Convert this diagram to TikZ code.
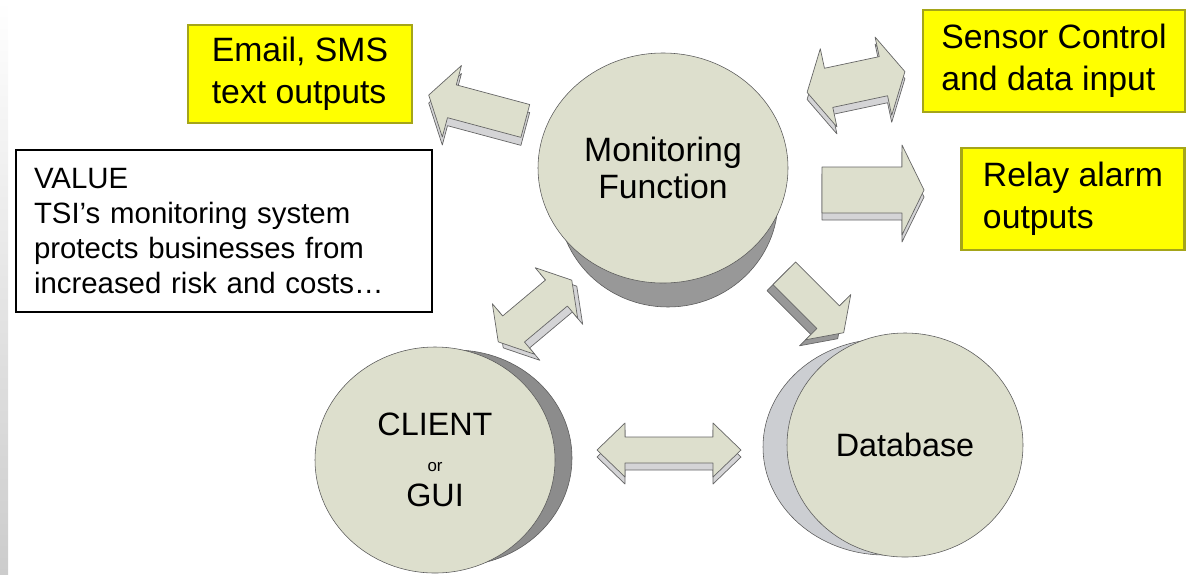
\documentclass[tikz,border=0pt]{standalone}
\usepackage{fontspec}
\setmainfont{Liberation Sans}
\usetikzlibrary{shapes.geometric}

\definecolor{facegreen}{RGB}{221,223,205}
\definecolor{boxyellow}{RGB}{255,255,0}
\definecolor{boxedge}{RGB}{165,165,25}
\definecolor{sidedark}{RGB}{152,152,152}
\definecolor{sidelight}{RGB}{204,206,210}
\definecolor{arrowunder}{RGB}{212,212,214}

% one pixel of the layout
\def\pix{0.025cm}

% block arrow outlines: half length, half shaft, half head, head length
\newcommand{\singlearrow}[4]{(-#1,-#2) -- (#1-#4,-#2) -- (#1-#4,-#3) -- (#1,0) -- (#1-#4,#3) -- (#1-#4,#2) -- (-#1,#2) -- cycle}
\newcommand{\doublearrow}[4]{(-#1,0) -- (-#1+#4,-#3) -- (-#1+#4,-#2) -- (#1-#4,-#2) -- (#1-#4,-#3) -- (#1,0) -- (#1-#4,#3) -- (#1-#4,#2) -- (-#1+#4,#2) -- (-#1+#4,#3) -- cycle}

\begin{document}
\begin{tikzpicture}[x=\pix, y=-\pix,
  face/.style={ellipse, draw=black!65, fill=facegreen, inner sep=0pt, align=center,
    font=\fontsize{24}{26}\selectfont},
  yellowbox/.style={rectangle, draw=boxedge, line width=1.5pt, fill=boxyellow,
    align=left, inner sep=0pt, font=\fontsize{24}{29.8}\selectfont},
  valuebox/.style={rectangle, draw=black, line width=0.9pt, fill=white, align=left,
    text width=380*\pix, inner xsep=18*\pix, minimum height=162*\pix,
    font=\fontsize{20.9}{24.8}\selectfont},
  arrowface/.style={draw=black!60, fill=facegreen, line width=0.5pt, line join=round},
  arrowside/.style={draw=black!60, fill=arrowunder, line width=0.5pt, line join=round}]
\useasboundingbox (0,0) rectangle (1187,574);

% Rand links
\shade[top color=white, bottom color=black!20] (0,0) rectangle (8,574);

% Zylinder: Seiten zuerst
\filldraw[fill=sidedark, draw=black!65] (668,200) ellipse [x radius=110, y radius=107];
\filldraw[fill=black!45, draw=black!65] (455,458) ellipse [x radius=117, y radius=108];
\filldraw[fill=sidelight, draw=black!65] (885,447) ellipse [x radius=122, y radius=108];

% Zylinder: Deckflaechen
\node[face, minimum width=250*\pix, minimum height=230*\pix] (mon) at (663,168)
  {Monitoring\\Function};
\node[face, minimum width=240*\pix, minimum height=226*\pix,
  font=\fontsize{23}{25}\selectfont] (client) at (435,460)
  {CLIENT\\{\fontsize{12}{12}\selectfont or}\\GUI};
\node[face, minimum width=236*\pix, minimum height=224*\pix,
  font=\fontsize{23}{25}\selectfont] (db) at (905,445) {Database};

% Gelbe Boxen
\node[yellowbox, minimum width=224*\pix, minimum height=98*\pix] (email) at (300,74)
  {Email, SMS\\text outputs};
\node[yellowbox, minimum width=262*\pix, minimum height=102*\pix] (sensor) at (1054,61)
  {Sensor Control\\and data input};
\node[yellowbox, minimum width=223*\pix, minimum height=102*\pix] (relay) at (1073,199)
  {Relay alarm\\outputs};

% Textbox
\node[valuebox] (value) at (224,231)
  {VALUE\\TSI’s monitoring system\\protects businesses from\\increased risk and costs…};

% Blockpfeile (Unterseite versetzt, dann Oberseite)
% zu Email / SMS
\begin{scope}[shift={(477,116)}, rotate=165] \draw[arrowside] \singlearrow{50}{17}{37}{24}; \end{scope}
\begin{scope}[shift={(477,108)}, rotate=165] \draw[arrowface] \singlearrow{50}{17}{37}{24}; \end{scope}
% Sensor <-> Monitoring
\begin{scope}[shift={(856,89)}, rotate=12] \draw[arrowside] \doublearrow{50}{20}{40}{22}; \end{scope}
\begin{scope}[shift={(856,82)}, rotate=12] \draw[arrowface] \doublearrow{50}{20}{40}{22}; \end{scope}
% zu Relay
\begin{scope}[shift={(873,197)}] \draw[arrowside] \singlearrow{51}{23}{45}{22}; \end{scope}
\begin{scope}[shift={(873,190)}] \draw[arrowface] \singlearrow{51}{23}{45}{22}; \end{scope}
% zur Datenbank
\begin{scope}[shift={(808,309)}, rotate=-45] \draw[arrowside, fill=sidedark] \singlearrow{42}{16}{32}{22}; \end{scope}
\begin{scope}[shift={(814,303)}, rotate=-45] \draw[arrowface] \singlearrow{42}{16}{32}{22}; \end{scope}
% Client <-> Monitoring
\begin{scope}[shift={(540,317)}, rotate=40] \draw[arrowside] \doublearrow{48}{17}{33}{20}; \end{scope}
\begin{scope}[shift={(535,311)}, rotate=40] \draw[arrowface] \doublearrow{48}{17}{33}{20}; \end{scope}
% Client <-> Datenbank
\begin{scope}[shift={(669,457)}] \draw[arrowside] \doublearrow{72}{13}{27}{28}; \end{scope}
\begin{scope}[shift={(669,450)}] \draw[arrowface] \doublearrow{72}{13}{27}{28}; \end{scope}

\end{tikzpicture}
\end{document}
